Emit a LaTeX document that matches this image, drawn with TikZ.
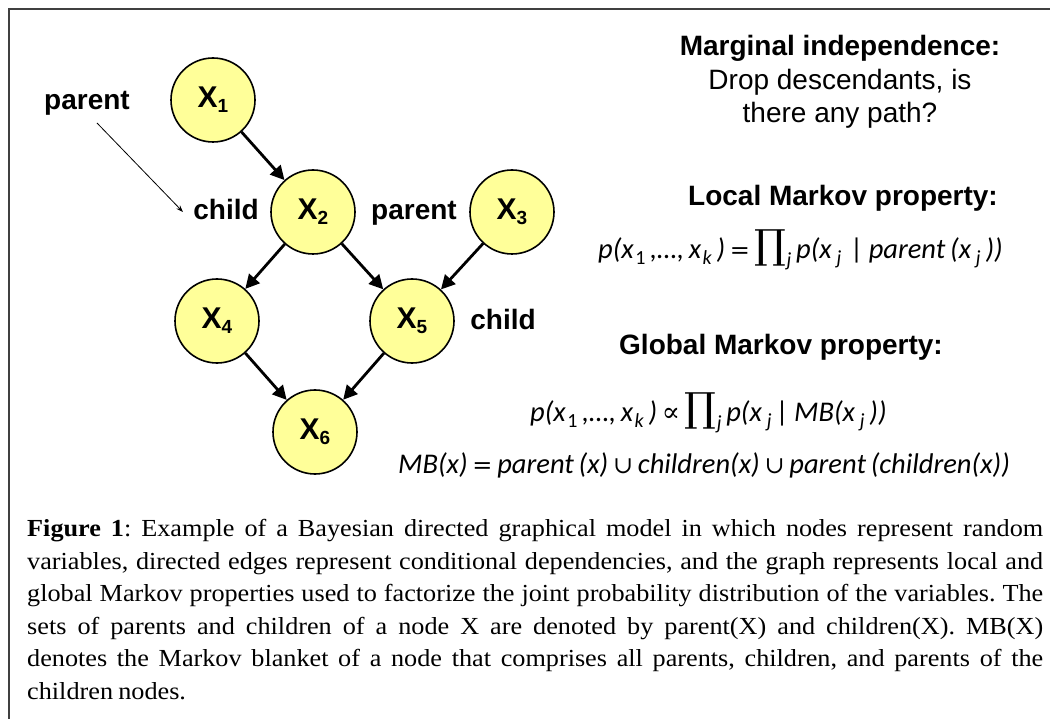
\documentclass[tikz,border=0pt]{standalone}
\usepackage{fontspec}
\setmainfont{Liberation Serif}
\newfontfamily\arialf{Liberation Sans}
\newfontfamily\calf{Carlito}
\newfontfamily\symf{DejaVu Serif}
\newfontfamily\capf[FakeStretch=1.07,WordSpace={0.8,2,2}]{Liberation Serif}
\usetikzlibrary{arrows.meta}
\hyphenpenalty=10000
\exhyphenpenalty=10000
\definecolor{nodey}{RGB}{255,255,153}
\definecolor{framec}{RGB}{64,64,64}
\newcommand\xsub[1]{\raisebox{-5pt}{\fontsize{19}{19}\selectfont #1}}
\newcommand\fsub[1]{\kern1.5pt\raisebox{-6pt}{\fontsize{20}{20}\selectfont #1}}
\newcommand\bigprod[1]{{\symf\upshape\fontsize{40}{40}\selectfont\char"220F}\raisebox{-8pt}{\fontsize{20}{20}\selectfont #1}}
\newcommand\eqs{\,{\symf\upshape\fontsize{24}{24}\selectfont =}\,}
\newcommand\props{\,{\symf\upshape\fontsize{27}{27}\selectfont\char"221D}\,}
\newcommand\cups{\,{\symf\upshape\fontsize{24}{24}\selectfont\char"222A}\,}
\tikzset{
  rv/.style={circle, draw=black, line width=1.6pt, fill=nodey, minimum size=84pt, inner sep=0pt,
    font=\arialf\bfseries\fontsize{30}{32}\selectfont},
  edgearrow/.style={line width=2.8pt, -{Triangle[length=14pt,width=14pt]}},
  thinarrow/.style={line width=0.8pt, -{Stealth[length=7pt,width=5pt]}},
  lbl/.style={font=\arialf\bfseries\fontsize{28}{32}\selectfont, inner sep=0pt, anchor=base},
  plain/.style={font=\arialf\fontsize{28}{32}\selectfont, inner sep=0pt, anchor=base},
  formula/.style={font=\calf\itshape\fontsize{28.5}{32}\selectfont, inner sep=0pt, anchor=base west}
}
\begin{document}
\begin{tikzpicture}[x=1pt,y=-1pt]
\useasboundingbox (0,0) rectangle (1050,719);
\draw[line width=1.3pt, framec] (9,719) -- (9,9) -- (1050,9);

% graph nodes
\node[rv] (x1) at (213,100) {X\xsub{1}};
\node[rv] (x2) at (313,212) {X\xsub{2}};
\node[rv] (x3) at (512,212) {X\xsub{3}};
\node[rv] (x4) at (217,321) {X\xsub{4}};
\node[rv] (x5) at (412,321) {X\xsub{5}};
\node[rv] (x6) at (315,432) {X\xsub{6}};

\draw[edgearrow] (x1) -- (x2);
\draw[edgearrow] (x2) -- (x4);
\draw[edgearrow] (x2) -- (x5);
\draw[edgearrow] (x3) -- (x5);
\draw[edgearrow] (x4) -- (x6);
\draw[edgearrow] (x5) -- (x6);

% labels
\node[lbl] (plab) at (87,110) {parent};
\node[lbl] (clab) at (226,220) {child};
\node[lbl] (plab2) at (414,220) {parent};
\node[lbl] (clab2) at (503,330) {child};
\coordinate (pa) at (97,123);
\coordinate (ca) at (183,212);
\draw[thinarrow] (pa) -- (ca);

% right-hand texts
\node[lbl] (h1) at (840,56) {Marginal independence:};
\node[plain] (t1) at (840,90) {Drop descendants, is};
\node[plain] (t2) at (840,123) {there any path?};
\node[lbl] (h2) at (843,206) {Local Markov property:};
\node[formula] (f1) at (598,259) {p(x\fsub{\upshape 1}\,,\ldots,\,x\fsub{k}\,)\eqs\bigprod{j}\,p(x\fsub{\,j}\,\,|\,parent\,(x\fsub{\,j}\,))};
\node[lbl] (h3) at (781,355) {Global Markov property:};
\node[formula] (f2) at (530,421) {p(x\fsub{\upshape 1}\,,\ldots,\,x\fsub{k}\,)\props\bigprod{j}\,p(x\fsub{\,j}\,|\,MB(x\fsub{\,j}\,))};
\node[formula] (f3) at (398,473) {MB(x)\eqs parent\,(x)\cups children(x)\cups parent\,(children(x))};

% caption
\node[anchor=north west, text width=1016pt, align=justify, inner sep=0pt,
      font=\capf\fontsize{24.5}{32.6}\selectfont] (cap) at (27,519)
 {\frenchspacing\textbf{Figure 1}: Example of a Bayesian directed graphical model in which nodes represent random\linebreak
 variables, directed edges represent conditional dependencies, and the graph represents local and\linebreak
 global Markov properties used to factorize the joint probability distribution of the variables. The\linebreak
 sets of parents and children of a node X are denoted by parent(X) and children(X). MB(X)\linebreak
 denotes the Markov blanket of a node that comprises all parents, children, and parents of the\linebreak
 children nodes.};
\end{tikzpicture}
\end{document}
